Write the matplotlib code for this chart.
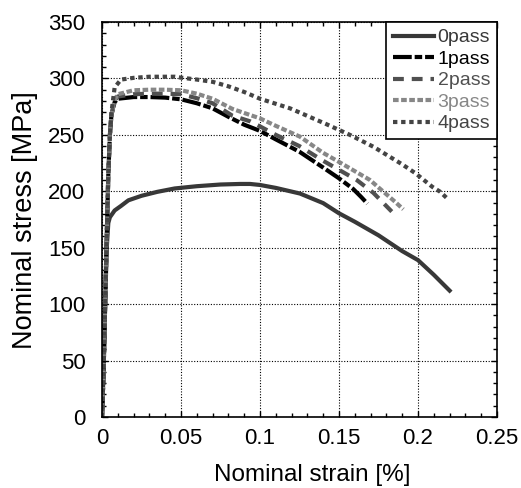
import matplotlib
matplotlib.use("Agg")
import matplotlib.pyplot as plt
from matplotlib.ticker import MultipleLocator

plt.rcParams['font.family'] = ['Liberation Sans', 'DejaVu Sans']

# ---- data ----
strain_0 = [0, 0.001, 0.002, 0.003, 0.004, 0.005, 0.008, 0.012, 0.0167, 0.025, 0.035, 0.046,
            0.06, 0.075, 0.0875, 0.0937, 0.1, 0.11, 0.1253, 0.14, 0.15, 0.16, 0.175, 0.19,
            0.2, 0.21, 0.22]
stress_0 = [0, 40, 100, 150, 172, 177, 183, 187, 192, 196, 199.5, 202.5,
            204.5, 206, 206.5, 206.5, 205.6, 203, 198, 189.5, 180.5, 173, 161, 147,
            139, 126, 112]

strain_1 = [0, 0.001, 0.002, 0.003, 0.004, 0.005, 0.006, 0.008, 0.01, 0.02, 0.03, 0.04,
            0.05, 0.06, 0.07, 0.08, 0.09, 0.1, 0.11, 0.125, 0.14, 0.15, 0.159, 0.164, 0.168]
stress_1 = [0, 40, 100, 160, 215, 250, 268, 279, 282, 283.5, 283.5, 283,
            281.5, 278, 273.5, 266, 259, 253.5, 246, 235, 221, 211.5, 202, 195, 189]

strain_2 = [0, 0.001, 0.002, 0.003, 0.004, 0.005, 0.006, 0.008, 0.01, 0.02, 0.03, 0.04,
            0.05, 0.06, 0.07, 0.0825, 0.0937, 0.1, 0.11, 0.125, 0.14, 0.15, 0.1612, 0.1717,
            0.1834]
stress_2 = [0, 40, 100, 160, 215, 250, 268, 280, 284, 286, 286.5, 286.5,
            286, 282.5, 278, 267, 262, 257.5, 250, 240, 227, 219, 210, 198.7,
            182]

strain_3 = [0, 0.001, 0.002, 0.003, 0.004, 0.005, 0.006, 0.008, 0.01, 0.02, 0.03, 0.04,
            0.05, 0.06, 0.07, 0.0825, 0.0937, 0.1, 0.11, 0.1253, 0.14, 0.15, 0.1696, 0.1749,
            0.1854, 0.1907]
stress_3 = [0, 40, 100, 160, 215, 250, 268, 281, 286, 289.5, 290, 290,
            289.5, 286.5, 282, 273, 267.6, 264.6, 258, 248.4, 234, 226, 210, 203.5,
            190.8, 184]

strain_4 = [0, 0.001, 0.002, 0.003, 0.004, 0.005, 0.006, 0.008, 0.012, 0.02, 0.03, 0.04,
            0.046, 0.05, 0.06, 0.07, 0.08, 0.09, 0.1, 0.119, 0.1418, 0.157, 0.1717, 0.1896,
            0.1985, 0.209, 0.214, 0.219]
stress_4 = [0, 40, 100, 160, 215, 250, 270, 292, 299, 300.5, 301.5, 301.5,
            301.5, 300.7, 299, 297, 293, 288, 282, 273.5, 259.6, 249.9, 239.5, 224.2,
            215.9, 204, 199.6, 193]

labels = ['0pass', '1pass', '2pass', '3pass', '4pass']

fig = plt.figure(figsize=(5.21, 4.88), dpi=100)
ax = fig.add_axes([102/521, 1-417/488, 395/521, 395/488])

lw = 3.0
ax.plot(strain_0, stress_0, color='#383838', lw=lw, ls='-', label=labels[0])
ax.plot(strain_1, stress_1, color='#000000', lw=lw, dashes=(4.5, 0.7, 1.8, 0.7), label=labels[1])
ax.plot(strain_2, stress_2, color='#505050', lw=lw, dashes=(2.6, 1.9), label=labels[2])
ax.plot(strain_3, stress_3, color='#878787', lw=lw, dashes=(1.35, 0.6), label=labels[3])
ax.plot(strain_4, stress_4, color='#444444', lw=lw, dashes=(1.05, 0.9), label=labels[4])

ax.set_xlim(0, 0.25)
ax.set_ylim(0, 350)
ax.xaxis.set_major_locator(MultipleLocator(0.05))
ax.xaxis.set_minor_locator(MultipleLocator(0.01))
ax.yaxis.set_major_locator(MultipleLocator(50))
ax.yaxis.set_minor_locator(MultipleLocator(10))
ax.set_xticks([0, 0.05, 0.1, 0.15, 0.2, 0.25])
ax.set_xticklabels(['0', '0.05', '0.1', '0.15', '0.2', '0.25'])
ax.tick_params(which='both', direction='in', top=True, right=True, labelsize=16, width=1, colors='black')
ax.tick_params(which='major', length=4.5)
ax.tick_params(which='minor', length=3)
ax.tick_params(axis='x', which='major', pad=8)
ax.tick_params(axis='y', which='major', pad=12)
ax.grid(True, which='major', ls=(0, (1, 1.5)), color='black', lw=0.8)
for s in ax.spines.values():
    s.set_linewidth(1.2)

fig.text(312/521, 1-475/488, 'Nominal strain [%]', fontsize=17.5, ha='center', va='center')
fig.text(25.5/521, 1-220/488, 'Nominal stress [MPa]', fontsize=19.5, ha='center', va='center',
         rotation=90)

leg = ax.legend(loc='upper right', fontsize=14, frameon=True, fancybox=False,
                edgecolor='black', borderaxespad=0, handlelength=2.1, handletextpad=0.2,
                labelspacing=0.2, borderpad=0.35, labelcolor='linecolor', framealpha=1)
leg.get_frame().set_linewidth(1.2)

fig.savefig('out.png', dpi=100)
